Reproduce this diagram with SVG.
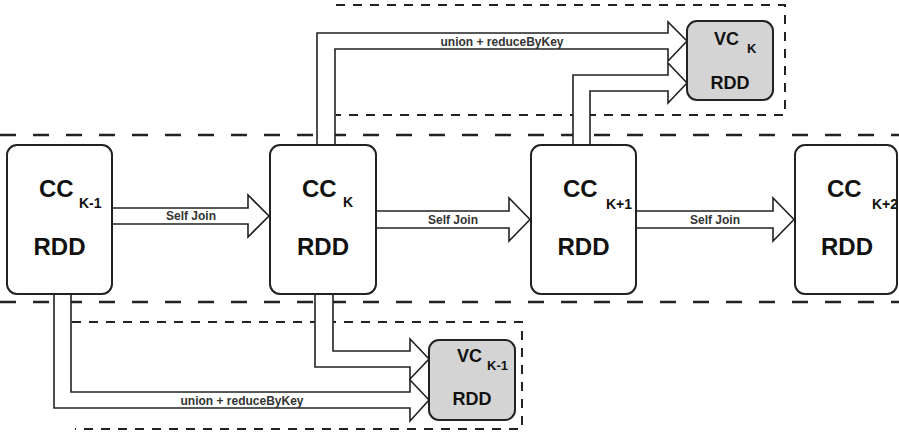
<svg xmlns="http://www.w3.org/2000/svg" width="899" height="434" viewBox="0 0 899 434">
<style>
.band{stroke:#222;stroke-width:2.5;stroke-dasharray:16 17;fill:none}
.region{stroke:#222;stroke-width:2;stroke-dasharray:9 8;fill:none}
.arrow{fill:#fff;stroke:#222;stroke-width:1.6;stroke-linejoin:miter}
.cc{fill:#fff;stroke:#222;stroke-width:2}
.vc{fill:#d4d4d4;stroke:#222;stroke-width:2}
text{font-family:"Liberation Sans",Arial,sans-serif;font-weight:bold;fill:#111}
.big{font-size:24px}
.sub{font-size:14px}
.mid{font-size:18px}
.sub2{font-size:13px}
.lbl{font-size:12px;text-anchor:middle;fill:#333}
</style>
<rect width="899" height="434" fill="#fff"/>
<g id="bands">
  <line class="band" x1="0" y1="135" x2="899" y2="135"/>
  <line class="band" x1="0" y1="302" x2="899" y2="302"/>
  <path class="region" d="M336,5 H785 V115 H336"/>
  <path class="region" d="M72,322 H522 V429 H75"/>
</g>
<g id="connectors">
  <polygon class="arrow" points="112,208 248,208 248,195 269,216 248,237 248,224 112,224"/>
  <text class="lbl" x="191" y="220">Self Join</text>
  <polygon class="arrow" points="376,211 509,211 509,198 530,219.5 509,241 509,228 376,228"/>
  <text class="lbl" x="453" y="223.5">Self Join</text>
  <polygon class="arrow" points="636,211 773,211 773,198 794,219.5 773,241 773,228 636,228"/>
  <text class="lbl" x="715" y="223.5">Self Join</text>
  <polygon class="arrow" points="317,145 317,33 668,33 668,22 687,41 668,61 668,49 335,49 335,145"/>
  <text class="lbl" x="502" y="45.5">union + reduceByKey</text>
  <polygon class="arrow" points="573,145 573,75 668,75 668,63 687,83 668,103 668,91 590,91 590,145"/>
  <polygon class="arrow" points="315,294 315,367 410,367 410,379 429,359 410,339 410,351 333,351 333,294"/>
  <polygon class="arrow" points="54,294 54,408 410,408 410,421 429,400 410,380 410,392 71,392 71,294"/>
  <text class="lbl" x="242" y="404.5">union + reduceByKey</text>
</g>
<g id="cc_k-1">
  <rect class="cc" x="7" y="145" width="105" height="149" rx="10"/>
  <text class="big" x="39" y="197">CC</text>
  <text class="sub" x="79" y="208">K-1</text>
  <text class="big" x="59.5" y="255" text-anchor="middle">RDD</text>
</g>
<g id="cc_k">
  <rect class="cc" x="270" y="145" width="106" height="149" rx="10"/>
  <text class="big" x="302" y="197">CC</text>
  <text class="sub" x="343" y="207">K</text>
  <text class="big" x="323" y="255" text-anchor="middle">RDD</text>
</g>
<g id="cc_k+1">
  <rect class="cc" x="531" y="145" width="105" height="149" rx="10"/>
  <text class="big" x="563" y="197">CC</text>
  <text class="sub" x="606" y="209">K+1</text>
  <text class="big" x="583.5" y="255" text-anchor="middle">RDD</text>
</g>
<g id="cc_k+2">
  <rect class="cc" x="795" y="145" width="102" height="149" rx="10"/>
  <text class="big" x="827" y="197">CC</text>
  <text class="sub" x="872" y="209">K+2</text>
  <text class="big" x="847" y="255" text-anchor="middle">RDD</text>
</g>
<g id="vc_k">
  <rect class="vc" x="687" y="21" width="86" height="79" rx="10"/>
  <text class="mid" x="714" y="45">VC</text>
  <text class="sub2" x="747" y="53">K</text>
  <text class="mid" x="730" y="89" text-anchor="middle">RDD</text>
</g>
<g id="vc_k-1">
  <rect class="vc" x="429" y="340" width="86" height="80" rx="10"/>
  <text class="mid" x="457" y="362">VC</text>
  <text class="sub2" x="487" y="370">K-1</text>
  <text class="mid" x="472" y="405" text-anchor="middle">RDD</text>
</g>
</svg>
